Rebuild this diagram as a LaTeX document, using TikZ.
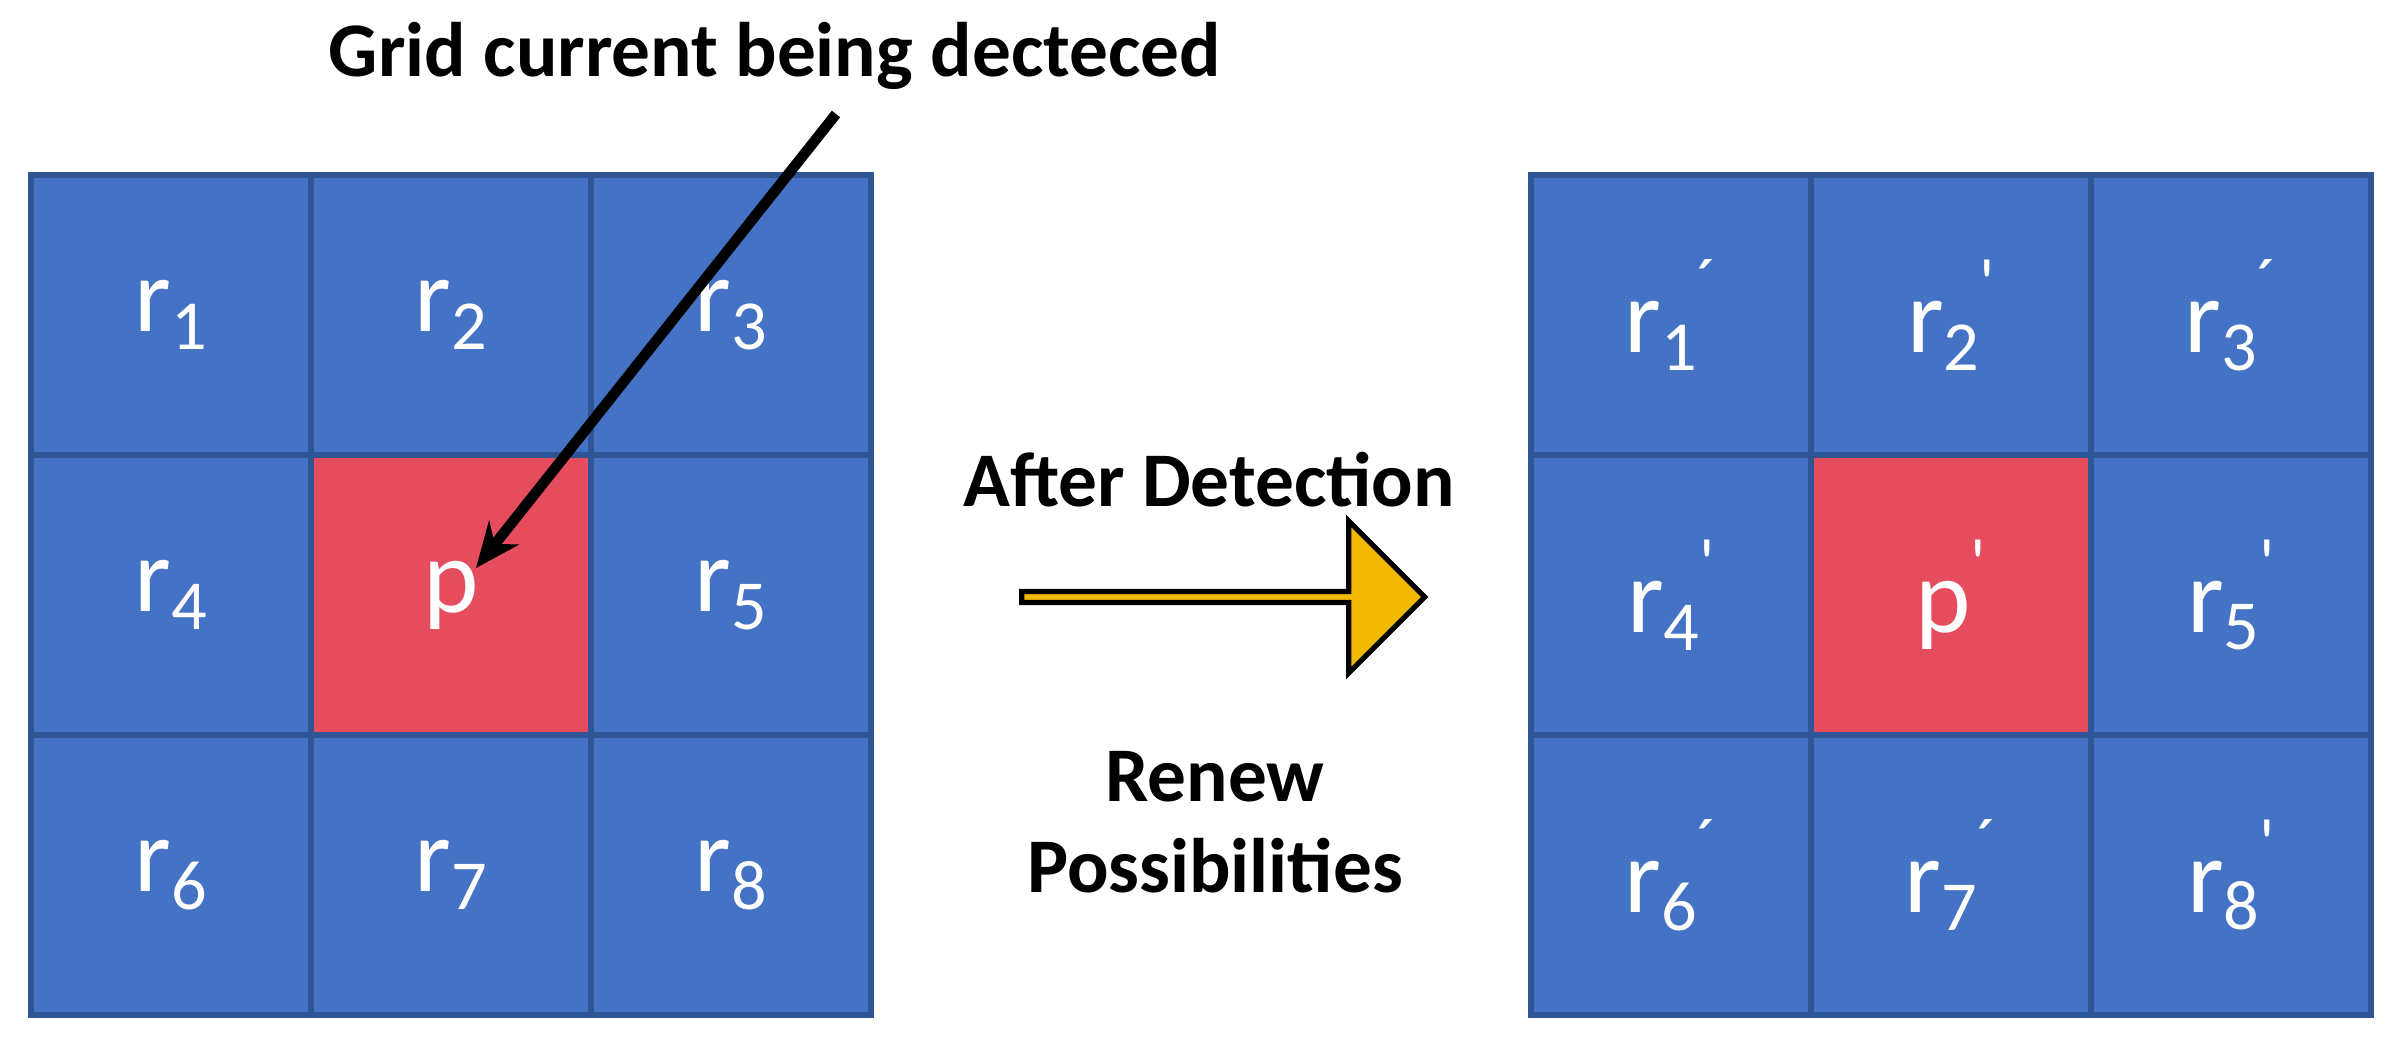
\documentclass[tikz,border=0pt]{standalone}
\usepackage{fontspec}
\setmainfont{Carlito}
\usetikzlibrary{shapes.arrows,arrows.meta}
\definecolor{cb}{HTML}{4472C4}
\definecolor{cbd}{HTML}{2F5597}
\definecolor{cr}{HTML}{E54C5E}
\definecolor{cy}{HTML}{F0B800}
\newcommand\rr[2]{r\raisebox{-0.35ex}{\fontsize{20}{20}\selectfont #1}#2}
\newcommand\pr{\raisebox{0.9ex}{\fontsize{20}{20}\selectfont\textquotesingle}}
\newcommand\prr{\raisebox{0.9ex}{\fontsize{20}{20}\selectfont ´}}
\begin{document}
\begin{tikzpicture}[
  cell/.style={draw=cbd,line width=1.5pt,fill=cb,minimum size=2.8cm,inner sep=0pt,text=white,font=\fontsize{30}{30}\selectfont},
  hot/.style={cell,fill=cr},
  lbl/.style={font=\bfseries\fontsize{22}{26}\selectfont,align=center}]
\useasboundingbox (0,0) rectangle (23.9,10.44);
% left grid
\foreach \n/\t [count=\i from 0] in {a1/\rr{1}{},a2/\rr{2}{},a3/\rr{3}{},a4/\rr{4}{},ap/p,a5/\rr{5}{},a6/\rr{6}{},a7/\rr{7}{},a8/\rr{8}{}}{
  \pgfmathtruncatemacro\c{mod(\i,3)}\pgfmathtruncatemacro\r{div(\i,3)}
  \ifnum\i=4 \node[hot] (\n) at (0.31+1.4+2.8*\c,8.69-1.4-2.8*\r) {\t};
  \else \node[cell] (\n) at (0.31+1.4+2.8*\c,8.69-1.4-2.8*\r) {\t};\fi}
% right grid
\foreach \n/\t [count=\i from 0] in {b1/\rr{1}{\prr},b2/\rr{2}{\pr},b3/\rr{3}{\prr},b4/\rr{4}{\pr},bp/p\pr,b5/\rr{5}{\pr},b6/\rr{6}{\prr},b7/\rr{7}{\prr},b8/\rr{8}{\pr}}{
  \pgfmathtruncatemacro\c{mod(\i,3)}\pgfmathtruncatemacro\r{div(\i,3)}
  \ifnum\i=4 \node[hot] (\n) at (15.31+1.4+2.8*\c,8.69-1.4-2.8*\r) {\t};
  \else \node[cell] (\n) at (15.31+1.4+2.8*\c,8.69-1.4-2.8*\r) {\t};\fi}
\node[lbl] (title) at (7.75,9.88) {Grid current being decteced};
\coordinate (s) at (8.36,9.30);
\coordinate (t) at (4.76,4.76);
\draw[line width=3pt,-{Stealth[length=0.45cm,width=0.38cm]}] (s) -- (t);
\node[lbl] (after) at (12.09,5.64) {After Detection};
\node[lbl] (renew) at (12.15,2.22) {Renew\\Possibilities};
\node[single arrow,draw=black,line width=1.5pt,fill=cy,minimum height=4.03cm,minimum width=1.52cm,single arrow head extend=0.34cm,single arrow tip angle=90,inner sep=0pt] (arr) at (12.205,4.47) {};
\end{tikzpicture}
\end{document}
